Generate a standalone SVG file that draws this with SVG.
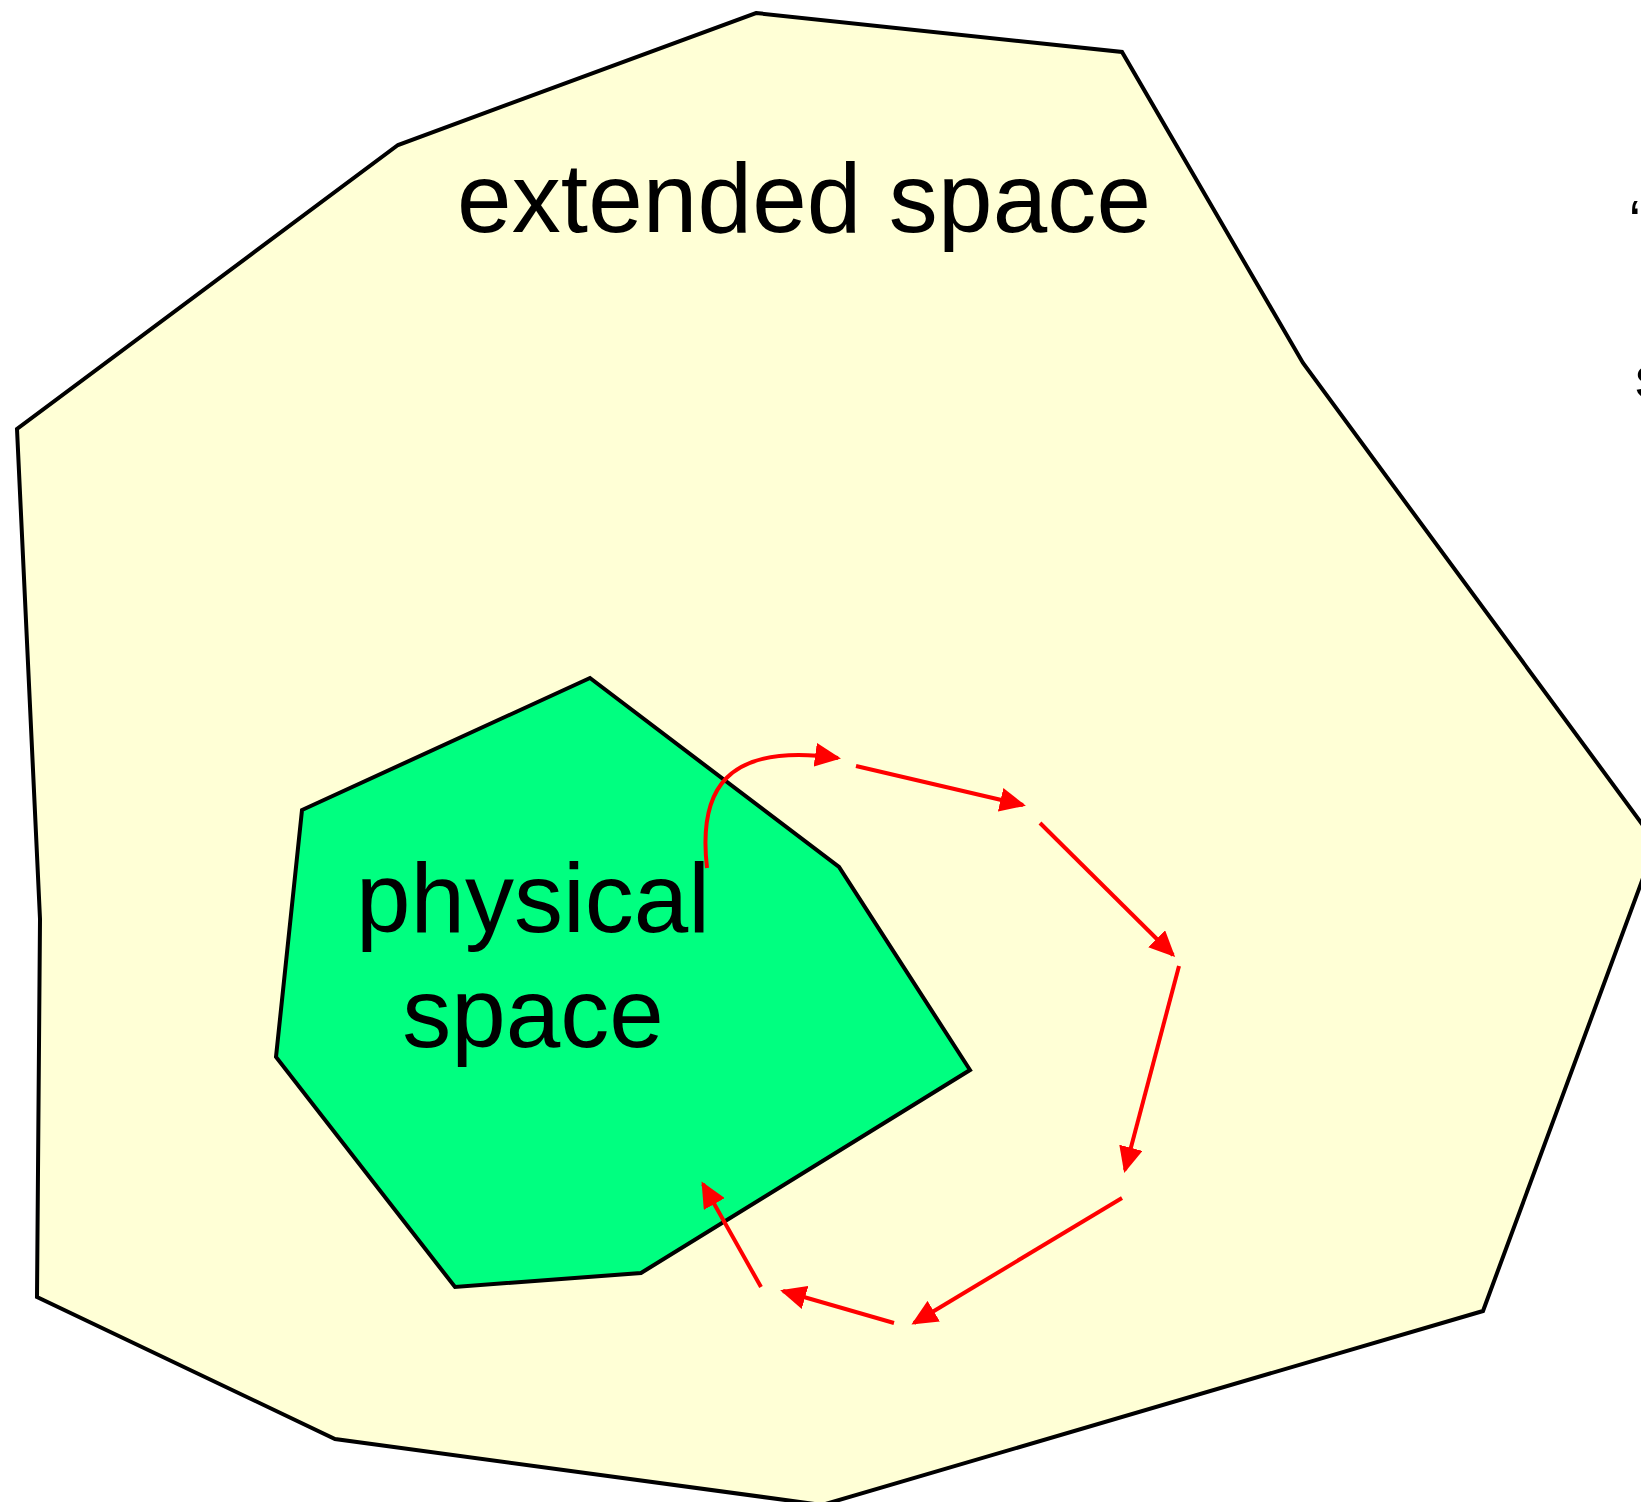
<svg xmlns="http://www.w3.org/2000/svg" width="1641" height="1502" viewBox="0 0 1641 1502">
  <style>
    .region { stroke: #000; stroke-width: 4; stroke-linejoin: miter; }
    .label { font-family: "Liberation Sans", Arial, sans-serif; font-size: 98px; fill: #000; }
    .edge { font-family: "Liberation Sans", Arial, sans-serif; font-size: 57px; fill: #000; }
    .flow { fill: none; stroke: #FF0000; stroke-width: 4; marker-end: url(#arrow); }
  </style>
  <defs>
    <marker id="arrow" markerUnits="userSpaceOnUse" markerWidth="26" markerHeight="24" refX="23" refY="12" orient="auto">
      <path d="M0,0 L26,12 L0,24 Z" fill="#FF0000"/>
    </marker>
  </defs>
  <rect width="1641" height="1502" fill="#FFFFFF"/>
  <g id="extended-space">
    <polygon class="region" fill="#FFFFD6" points="756,13 1122,52 1303,363 1656,843 1483,1311 822,1505 335,1439 37,1297 40,919 17,429 398,145"/>
    <text class="label" x="804" y="232" text-anchor="middle" textLength="694" lengthAdjust="spacing">extended space</text>
  </g>
  <g id="physical-space">
    <polygon class="region" fill="#00FF80" points="590,678 839,867 970,1070 641,1273 455,1287 276,1057 302,810"/>
    <text class="label" x="533" y="932" text-anchor="middle">physical</text>
    <text class="label" x="533" y="1047" text-anchor="middle">space</text>
  </g>
  <g id="edge-text">
    <text class="edge" x="1630" y="241">“</text>
    <text class="edge" x="1635" y="397">s</text>
  </g>
  <g id="connectors">
    <path class="flow" d="M707,868 C698,790 725,742 838,758"/>
    <path class="flow" d="M856,766 L1023,805"/>
    <path class="flow" d="M1040,823 L1173,955"/>
    <path class="flow" d="M1179,966 L1125,1170"/>
    <path class="flow" d="M1122,1198 L914,1323"/>
    <path class="flow" d="M894,1323 L783,1291"/>
    <path class="flow" d="M761,1287 L703,1184"/>
  </g>
</svg>
